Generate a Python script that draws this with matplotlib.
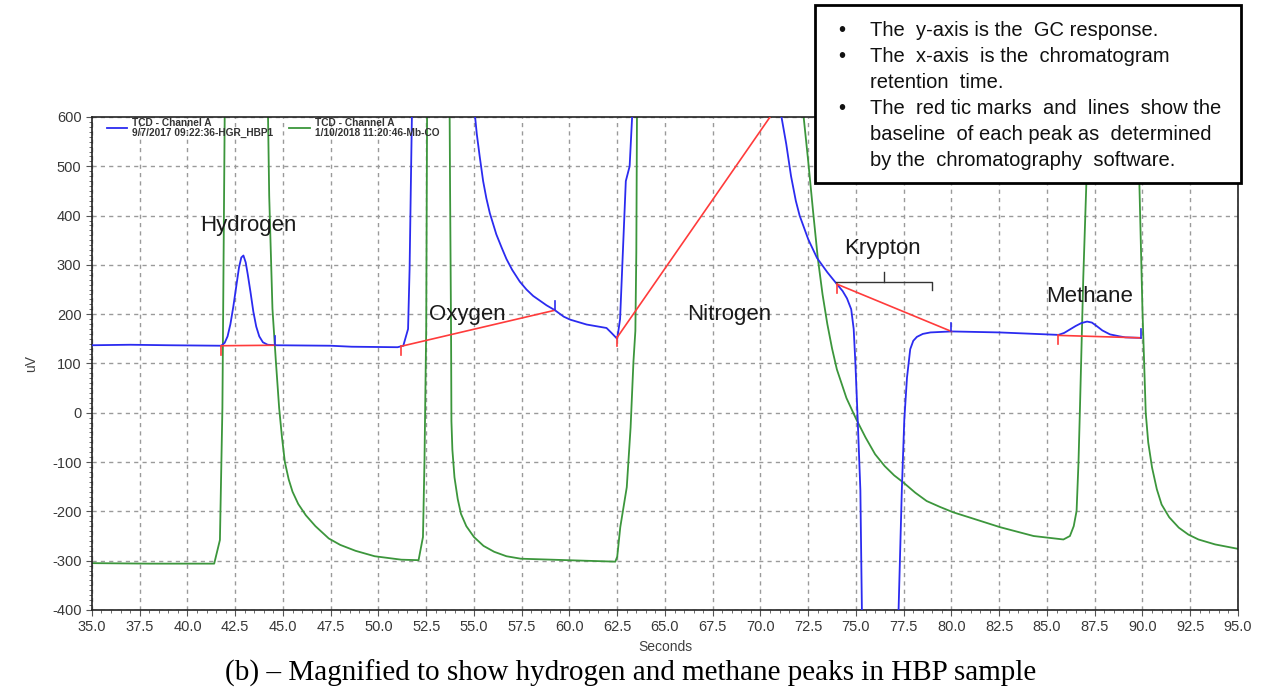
import matplotlib
matplotlib.use("Agg")
import matplotlib.pyplot as plt
from matplotlib.patches import Rectangle
from matplotlib.ticker import MultipleLocator

plt.rcParams["font.family"] = ["Liberation Sans", "DejaVu Sans"]
plt.rcParams["axes.unicode_minus"] = False

# blue trace: HBP1 sample (seconds, uV); 650 / -450 = off scale
blue_t = [35.0, 37.0, 39.0, 41.77, 41.95, 42.1, 42.25, 42.4, 42.55, 42.7, 42.82, 42.93, 43.05,
          43.16, 43.3, 43.45, 43.6, 43.76, 43.95, 44.2, 44.6, 47.5, 48.6, 51.0, 51.3, 51.55,
          51.63, 51.75, 51.8, 55.0, 55.06, 55.15, 55.3, 55.48, 55.65, 55.83, 56.17, 56.45, 56.7,
          57.0, 57.4, 57.75, 58.1, 58.8, 59.24, 59.7, 60.03, 60.9, 61.94, 62.2, 62.5, 62.65,
          62.8, 62.95, 63.15, 63.28, 63.35, 71.0, 71.1, 71.35, 71.6, 71.85, 72.05, 72.5, 72.96,
          73.5, 74.0, 74.3, 74.53, 74.75, 74.88, 74.97, 75.09, 75.23, 75.31, 75.35, 77.2, 77.23,
          77.4, 77.53, 77.67, 77.84, 78.0, 78.19, 78.5, 78.9, 80.0, 82.5, 85.0, 85.6, 85.9,
          86.2, 86.5, 86.8, 87.1, 87.35, 87.6, 87.9, 88.3, 88.8, 89.1, 89.9]
blue_uv = [137, 138, 137, 136, 142, 155, 180, 215, 255, 295, 315, 319, 305,
           280, 245, 205, 175, 155, 143, 138, 137, 136, 134, 133, 136, 170,
           292, 600, 650, 650, 600, 565, 520, 470, 435, 405, 362, 335, 312,
           290, 266, 250, 237, 218, 208, 195, 189, 179, 172, 162, 150, 190,
           330, 470, 500, 600, 650, 650, 600, 545, 480, 430, 400, 352, 314,
           285, 261, 247, 232, 210, 170, 100, -14, -157, -400, -450, -450, -400,
           -157, -14, 71, 129, 146, 154, 160, 163, 165, 163, 159, 158, 162,
           169, 176, 182, 185, 183, 176, 167, 159, 155, 153, 152]

# green trace: 1/10/2018 Mb-CO reference
green_t = [35.0, 38.0, 41.4, 41.7, 41.83, 41.96, 44.2, 44.28, 44.45, 44.63, 44.8, 44.95, 45.1,
           45.3, 45.5, 45.8, 46.2, 46.7, 47.4, 48.0, 48.8, 49.8, 51.2, 52.1, 52.33, 52.41,
           52.5, 52.55, 53.72, 53.75, 53.8, 53.82, 53.87, 53.98, 54.15, 54.32, 54.6, 55.0, 55.5,
           56.06, 56.7, 57.45, 59.9, 62.4, 62.5, 62.66, 63.0, 63.2, 63.35, 63.45, 63.5, 63.54,
           72.2, 72.26, 72.5, 72.75, 73.0, 73.25, 73.5, 73.75, 74.0, 74.5, 75.0, 75.5, 76.0,
           76.5, 77.0, 77.5, 78.1, 78.7, 79.4, 80.1, 81.0, 82.54, 84.3, 85.86, 86.2, 86.4,
           86.55, 86.65, 86.72, 86.9, 87.07, 87.15, 89.8, 89.83, 90.0, 90.17, 90.3, 90.5, 90.75,
           91.0, 91.4, 91.9, 92.4, 92.93, 93.8, 95.0]
green_uv = [-305, -306, -306, -258, 10, 650, 650, 440, 211, 104, 10, -50, -100,
            -135, -160, -185, -208, -230, -255, -268, -280, -291, -298, -299, -252, -97,
            171, 650, 650, 450, 171, -17, -75, -131, -175, -205, -230, -252, -270,
            -282, -291, -296, -299, -302, -292, -232, -151, -30, 104, 166, 325, 650,
            650, 600, 510, 410, 314, 240, 180, 130, 88, 30, -12, -50, -84,
            -108, -127, -142, -162, -179, -191, -202, -213, -232, -250, -257, -250, -230,
            -199, -100, 0, 274, 476, 650, 650, 476, 206, 0, -60, -111, -155,
            -186, -212, -233, -247, -257, -267, -276]

# peak baselines from the integration software
base_x0 = [41.77, 51.2, 62.5, 74.0, 85.6]
base_y0 = [136, 135, 153, 261, 157]
base_x1 = [44.6, 59.24, 70.5, 80.0, 89.9]
base_y1 = [137, 208, 600, 165, 152]
end_tick = [True, True, False, True, True]

peak_names = ["Hydrogen", "Oxygen", "Nitrogen", "Krypton", "Methane"]
name_x = [43.2, 54.65, 68.35, 76.4, 87.25]
name_y = [379, 200, 200, 333, 235]

note_lines = ["The  y-axis is the  GC response.",
              "The  x-axis  is the  chromatogram",
              "retention  time.",
              "The  red tic marks  and  lines  show the",
              "baseline  of each peak as  determined",
              "by the  chromatography  software."]
note_bullet = [True, True, False, True, False, False]

caption = "(b) \u2013 Magnified to show hydrogen and methane peaks in HBP sample"

fig = plt.figure(figsize=(12.63, 6.89), dpi=100)
ax = fig.add_axes([0.0728, 0.1147, 0.9074, 0.7155])

blue = "#2b2bf0"
green = "#3c963c"
red = "#ff3b3b"

ax.plot(blue_t, blue_uv, color=blue, lw=1.3, zorder=3,
        label="TCD - Channel A\n9/7/2017 09:22:36-HGR_HBP1")
ax.plot(green_t, green_uv, color=green, lw=1.3, zorder=2,
        label="TCD - Channel A\n1/10/2018 11:20:46-Mb-CO")

for x0, y0, x1, y1, et in zip(base_x0, base_y0, base_x1, base_y1, end_tick):
    ax.plot([x0, x1], [y0, y1], color=red, lw=1.2, zorder=4)
    ax.plot([x0, x0], [y0, y0 - 18], color=red, lw=1.2, zorder=4)
    if et:
        ax.plot([x1, x1], [y1, y1 + 18], color=blue, lw=1.2, zorder=4)

for name, x, y in zip(peak_names, name_x, name_y):
    ax.text(x, y, name, fontsize=16, ha="center", va="center", color="#1a1a1a", zorder=5)

# krypton bracket
ax.plot([73.95, 78.98, 78.98], [265, 265, 249], color="#333333", lw=1.0, zorder=5)
ax.plot([76.45, 76.45], [265, 285], color="#333333", lw=1.0, zorder=5)

ax.set_xlim(35, 95)
ax.set_ylim(-400, 600)
ax.xaxis.set_major_locator(MultipleLocator(2.5))
ax.xaxis.set_minor_locator(MultipleLocator(0.5))
ax.yaxis.set_major_locator(MultipleLocator(100))
ax.yaxis.set_minor_locator(MultipleLocator(10))
ax.set_xticklabels([f"{v:.1f}" for v in ax.get_xticks()])
ax.grid(True, which="major", color="#9a9a9a", linestyle=(0, (3, 3)), lw=1.0)
ax.tick_params(which="major", length=4, width=0.8, colors="#555555", labelsize=10.5,
               labelcolor="#383838")
ax.tick_params(which="minor", length=2.5, width=0.6, colors="#555555")
for s in ax.spines.values():
    s.set_color("#222222")
    s.set_linewidth(1.2)

ax.set_xlabel("Seconds", fontsize=10, color="#404040", labelpad=4)
ax.set_ylabel("uV", fontsize=10, color="#404040", labelpad=10)

leg = ax.legend(loc="upper left", bbox_to_anchor=(0.012, 1.0), ncol=2, frameon=False,
                prop={"size": 7.3, "weight": "bold"}, handlelength=2.0, handletextpad=0.5,
                columnspacing=1.6, borderaxespad=0.0, borderpad=0.1)
for t in leg.get_texts():
    t.set_linespacing(0.95)
    t.set_color("#333333")

# note box
fig.patches.append(Rectangle((815 / 1263, 1 - 183 / 689), 426 / 1263, 178 / 689,
                             transform=fig.transFigure, facecolor="white",
                             edgecolor="black", lw=2.0, zorder=5))
line_y = 31
for line, bullet in zip(note_lines, note_bullet):
    if bullet:
        fig.text(838 / 1263, 1 - line_y / 689, "\u2022", fontsize=14.5, va="center",
                 color="#111111", zorder=6)
    fig.text(870 / 1263, 1 - line_y / 689, line, fontsize=14.5, va="center",
             color="#111111", zorder=6)
    line_y += 25.8

fig.text(631 / 1263, 1 - 673 / 689, caption, fontsize=21, family="Liberation Serif",
         ha="center", va="center", color="black")

fig.savefig("out.png", dpi=100)
